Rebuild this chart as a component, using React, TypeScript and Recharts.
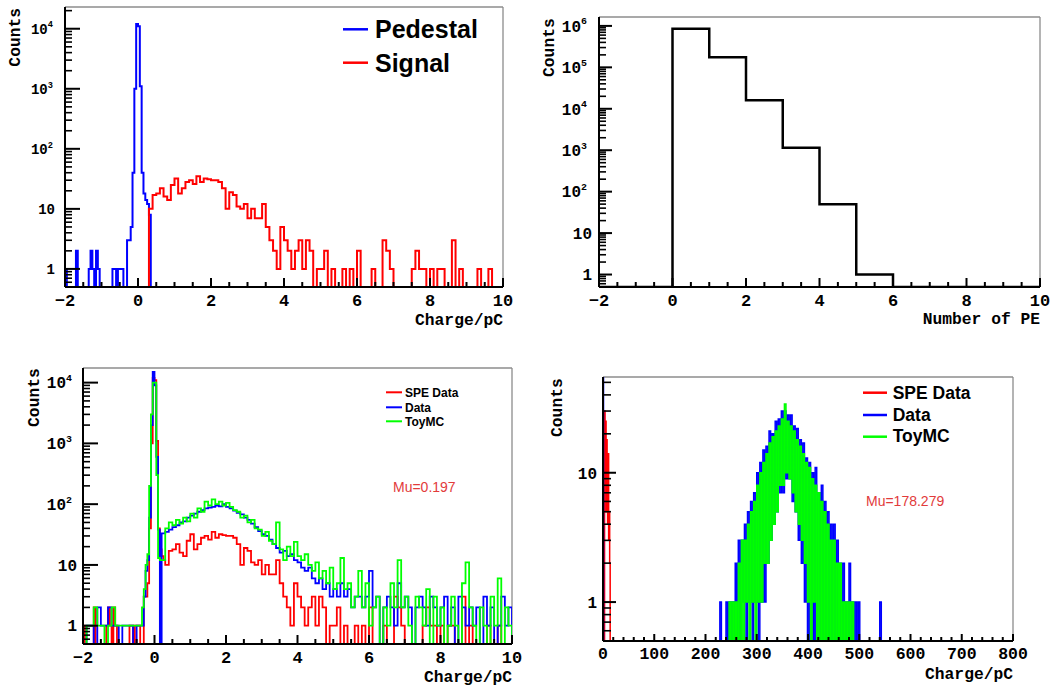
import React from 'react';
import { ComposedChart, Line, XAxis, YAxis, ReferenceLine } from 'recharts';

const FLOOR = 0.5;
const MONO = "'Liberation Mono', 'DejaVu Sans Mono', monospace";
const SANS = "'Liberation Sans', Arial, Helvetica, sans-serif";
const BLUE = '#0000ff';
const RED = '#ff0000';
const GREEN = '#00ff00';

// ---------------- Panel 1: Pedestal / Signal (Charge/pC) ----------------
const PED_START = -2;
const PED_WIDTH = 0.05;
const pedestalCounts = [
  1, 0, 0, 0, 0, 0, 2, 0, 0, 0,
  0, 0, 0, 1, 2, 1, 0, 2, 1, 0,
  0, 0, 0, 0, 0, 0, 1, 1, 0, 1,
  1, 1, 0, 0, 3, 3, 5, 40, 1000, 12000,
  11000, 1100, 40, 18, 14, 12, 8, 0,
];
const SIG_START = 0.3;
const SIG_WIDTH = 0.1;
const signalCounts = [
  10, 17, 18, 22, 16, 14, 25, 32, 18, 22,
  28, 30, 26, 35, 28, 32, 31, 30, 30, 28,
  22, 10, 19, 17, 11, 10, 12, 7, 10, 7,
  7, 12, 5, 3, 2, 1, 5, 3, 2, 1,
  2, 3, 1, 3, 2, 0, 1, 1, 2, 0,
  1, 0, 0, 1, 0, 1, 0, 2, 0, 0,
  0, 1, 0, 0, 3, 2, 1, 0, 0, 0,
  0, 0, 1, 2, 1, 1, 0, 1, 0, 1,
  1, 0, 0, 3, 0, 1, 0, 0, 0, 0,
  1, 0, 0, 1, 0, 0, 0,
];

// ---------------- Panel 2: Number of PE ----------------
const PE_START = 0;
const PE_WIDTH = 1;
const peCounts = [850000, 175000, 16000, 1150, 50, 1];

// ---------------- Panel 3: SPE Data / Data / ToyMC (Charge/pC) ----------------
const LEFT_START = -2;
const LEFT_WIDTH = 0.1;
const PEAK_START = -0.4;
const PEAK_WIDTH = 0.05;
const BODY_START = 0.2;
const BODY_WIDTH = 0.1;
const dataLeft = [0, 1, 1, 0, 2, 1, 1, 2, 1, 1, 0, 1, 1, 1, 0, 1];
const dataPeak = [1, 1, 3, 8, 12, 60, 2000, 15000, 9000, 600, 38, 0];
const dataBody = [
  33, 35, 38, 42, 45, 50, 52, 60, 65, 70,
  75, 80, 85, 88, 90, 95, 92, 100, 90, 85,
  78, 72, 68, 60, 55, 48, 42, 36, 32, 30,
  26, 22, 19, 16, 17, 14, 15, 12, 11, 9,
  8, 9, 6, 5, 6, 4, 5, 3, 4, 3,
  5, 3, 4, 2, 3, 3, 2, 3, 8, 2,
  3, 0, 2, 3, 2, 1, 5, 2, 3, 2,
  0, 2, 3, 2, 1, 3, 2, 1, 2, 3,
  1, 2, 0, 3, 2, 1, 2, 1, 2, 0,
  3, 1, 2, 0, 1, 3, 1, 2,
];
const mcLeft = [0, 1, 1, 2, 1, 1, 0, 1, 2, 1, 1, 1, 1, 1, 1, 1];
const mcPeak = [1, 2, 4, 10, 15, 200, 3000, 10000, 10000, 300, 13, 12];
const mcBody = [
  12, 40, 50, 45, 55, 48, 60, 52, 70, 60,
  85, 75, 110, 95, 120, 100, 110, 95, 105, 90,
  80, 75, 60, 65, 50, 55, 40, 38, 30, 35,
  25, 22, 50, 18, 12, 20, 14, 24, 14, 12,
  15, 10, 8, 11, 6, 8, 5, 9, 4, 5,
  13, 4, 5, 2, 3, 8, 2, 5, 1, 2,
  3, 0, 2, 1, 5, 2, 12, 2, 3, 1,
  0, 3, 2, 1, 4, 0, 3, 1, 2, 0,
  1, 3, 1, 0, 5, 11, 2, 1, 0, 2,
  1, 0, 3, 1, 6, 0, 2, 1,
];

// ---------------- Panel 4: wide charge range ----------------
const SPE4_START = 3;
const SPE4_WIDTH = 1;
const spe4Counts = [30, 8, 25, 5, 18, 6, 4, 14, 3, 5, 2, 0];
const DATA4_PED_START = 0;
const DATA4_PED_WIDTH = 1;
const data4Ped = [8000];
const G4_START = 216;
const G4_WIDTH = 3;
const data4Counts = [
  0, 0, 0, 0, 1, 0, 0, 0, 1, 0,
  1, 0, 1, 0, 2, 0, 3, 0, 3, 1,
  4, 0, 5, 1, 6, 0, 7, 1, 10, 0,
  12, 1, 15, 1, 16, 2, 21, 3, 20, 4,
  25, 5, 26, 7, 30, 7, 30, 9, 28, 9,
  28, 6, 23, 5, 22, 3, 18, 2, 17, 1,
  13, 0, 12, 0, 10, 0, 11, 0, 7, 0,
  8, 0, 6, 0, 5, 0, 4, 0, 4, 0,
  3, 0, 2, 0, 2, 0, 1, 0, 2, 0,
  1, 0, 1, 0, 1, 0, 0, 0, 0, 0,
  0, 0, 0, 0, 0, 0, 0, 0, 1, 0, 0,
];
const mc4Counts = [
  0, 0, 0, 0, 0, 0, 0, 0, 0, 0,
  1, 0, 1, 0, 1, 0, 2, 0, 3, 0,
  3, 1, 4, 0, 5, 1, 6, 0, 8, 1,
  10, 1, 12, 2, 14, 2, 17, 3, 19, 4,
  21, 5, 23, 8, 26, 8, 34, 10, 25, 9,
  23, 7, 21, 5, 18, 4, 16, 3, 14, 2,
  12, 1, 11, 0, 9, 1, 8, 0, 7, 0,
  6, 0, 5, 0, 4, 0, 3, 0, 3, 0,
  2, 0, 2, 0, 1, 0, 1, 0, 1, 0,
  1, 0, 0, 0, 0, 0, 0, 0, 0, 0,
  0, 0, 0, 0, 0, 0, 0, 0, 0, 0, 0,
];

// ---------------- Tick labels ----------------
const chargeMajorTicks = [-2, 0, 2, 4, 6, 8, 10];
const wideChargeMajorTicks = [0, 100, 200, 300, 400, 500, 600, 700, 800];

// ---------------- helpers ----------------
type Pt = { x: number; y: number };
type Seg = { start: number; width: number; counts: number[] };
const rnd = (v: number) => Math.round(v * 10000) / 10000;

function stepLine(xmin: number, xmax: number, segs: Seg[]): Pt[] {
  const pts: Pt[] = [{ x: xmin, y: FLOOR }];
  for (const s of segs) {
    s.counts.forEach((c, i) => pts.push({ x: rnd(s.start + i * s.width), y: c > 0 ? c : FLOOR }));
    pts.push({ x: rnd(s.start + s.counts.length * s.width), y: FLOOR });
  }
  pts.push({ x: xmax, y: FLOOR });
  const out: Pt[] = [];
  for (const p of pts) {
    if (out.length && Math.abs(out[out.length - 1].x - p.x) < 1e-9) out[out.length - 1] = p;
    else out.push(p);
  }
  return out;
}

function linTicks(a: number, b: number, step: number): number[] {
  const r: number[] = [];
  for (let v = a; v <= b + 1e-9; v += step) r.push(Math.round(v * 100) / 100);
  return r;
}
function logTicks(lo: number, hi: number): number[] {
  const r: number[] = [];
  for (let e = -1; e <= 7; e++) {
    for (let m = 1; m <= 9; m++) {
      const v = Math.round(m * Math.pow(10, e) * 1000) / 1000;
      if (v >= lo && v <= hi) r.push(v);
    }
  }
  return r;
}

type Plot = { l: number; t: number; r: number; b: number };
type YOpts = { labelX: number; powX: number; font: number; major: number; minor: number };
type XOpts = { labelY: number; font: number; major: number; minor: number; majors: number[] };

function makeYTick(plot: Plot, o: YOpts) {
  return (props: any) => {
    const { y, payload } = props;
    const v = Number(payload.value);
    const lg = Math.log10(v);
    const e = Math.round(lg);
    const isMajor = Math.abs(lg - e) < 1e-6;
    const len = isMajor ? o.major : o.minor;
    return (
      <g>
        <line x1={plot.l} x2={plot.l + len} y1={y} y2={y} stroke="#000" strokeWidth={isMajor ? 2 : 1.6} />
        {isMajor && e >= 0 && (
          <text
            x={e <= 1 ? o.labelX : o.powX}
            y={y + o.font * 0.36}
            textAnchor="end"
            fontFamily={MONO}
            fontWeight="bold"
            fontSize={o.font}
            fill="#000"
          >
            {e <= 1 ? (
              String(Math.round(v))
            ) : (
              <>
                10
                <tspan dy={-o.font * 0.45} fontSize={o.font * 0.62}>
                  {e}
                </tspan>
              </>
            )}
          </text>
        )}
      </g>
    );
  };
}

function makeXTick(plot: Plot, o: XOpts) {
  return (props: any) => {
    const { x, payload } = props;
    const v = Number(payload.value);
    const isMajor = o.majors.some((m) => Math.abs(m - v) < 1e-9);
    const len = isMajor ? o.major : o.minor;
    const label = v < 0 ? '\u2212' + Math.abs(v) : String(v);
    return (
      <g>
        <line x1={x} x2={x} y1={plot.b} y2={plot.b - len} stroke="#000" strokeWidth={2} />
        {isMajor && (
          <text x={x} y={o.labelY} textAnchor="middle" fontFamily={MONO} fontWeight="bold" fontSize={o.font} fill="#000">
            {label}
          </text>
        )}
      </g>
    );
  };
}

type Series = { data: Pt[]; color: string; width: number };
type PanelProps = {
  left: number;
  top: number;
  width: number;
  height: number;
  plot: Plot;
  xDomain: [number, number];
  yDomain: [number, number];
  xTicks: number[];
  yTicks: number[];
  yOpts: YOpts;
  xOpts: XOpts;
  series: Series[];
  overlay: React.ReactNode;
};

function HistPanel(p: PanelProps) {
  const margin = { top: p.plot.t, right: p.width - p.plot.r, bottom: 0, left: 0 };
  return (
    <div style={{ position: 'absolute', left: p.left, top: p.top, width: p.width, height: p.height }}>
      <ComposedChart width={p.width} height={p.height} margin={margin}>
        <XAxis
          dataKey="x"
          type="number"
          domain={p.xDomain}
          allowDataOverflow
          ticks={p.xTicks}
          interval={0}
          height={p.height - p.plot.b}
          tickLine={false}
          axisLine={{ stroke: '#000', strokeWidth: 2 }}
          tick={makeXTick(p.plot, p.xOpts)}
        />
        <YAxis
          type="number"
          scale="log"
          domain={p.yDomain}
          allowDataOverflow
          ticks={p.yTicks}
          interval={0}
          width={p.plot.l}
          tickLine={false}
          axisLine={{ stroke: '#000', strokeWidth: 2 }}
          tick={makeYTick(p.plot, p.yOpts)}
        />
        <ReferenceLine y={p.yDomain[1]} stroke="#8c8c8c" strokeWidth={1.3} ifOverflow="visible" />
        <ReferenceLine x={p.xDomain[1]} stroke="#8c8c8c" strokeWidth={1.3} ifOverflow="visible" />
        {p.series.map((s, i) => (
          <Line
            key={i}
            data={s.data}
            dataKey="y"
            type="stepAfter"
            stroke={s.color}
            strokeWidth={s.width}
            dot={false}
            activeDot={false}
            isAnimationActive={false}
          />
        ))}
      </ComposedChart>
      <svg
        width={p.width}
        height={p.height}
        style={{ position: 'absolute', left: 0, top: 0, pointerEvents: 'none' }}
      >
        {p.overlay}
      </svg>
    </div>
  );
}

const titleStyle = { fontFamily: MONO, fontWeight: 'bold' as const, fontSize: 16.3, fill: '#000' };

function YTitle({ x, y }: { x: number; y: number }) {
  return (
    <text x={x} y={y} transform={`rotate(-90 ${x} ${y})`} textAnchor="end" {...titleStyle}>
      Counts
    </text>
  );
}

export default function App() {
  const chargeTicks = linTicks(-2, 10, 0.5);
  const wideTicks = linTicks(0, 800, 20);

  // Panel 1
  const p1Plot = { l: 65, t: 7, r: 503, b: 287 };
  const p1Y: [number, number] = [FLOOR, 23000];
  const pedLine = stepLine(-2, 10, [{ start: PED_START, width: PED_WIDTH, counts: pedestalCounts }]);
  const sigLine = stepLine(-2, 10, [{ start: SIG_START, width: SIG_WIDTH, counts: signalCounts }]);

  // Panel 2
  const p2Plot = { l: 72, t: 17, r: 513, b: 287 };
  const p2Y: [number, number] = [FLOOR, 1640000];
  const peLine = stepLine(-2, 10, [{ start: PE_START, width: PE_WIDTH, counts: peCounts }]);

  // Panel 3
  const p3Plot = { l: 83, t: 28, r: 512, b: 304 };
  const p3Y: [number, number] = [FLOOR, 17400];
  const speLine = stepLine(-2, 10, [
    { start: PED_START, width: PED_WIDTH, counts: pedestalCounts.slice(0, 46) },
    { start: SIG_START, width: SIG_WIDTH, counts: signalCounts },
  ]);
  const dataLine = stepLine(-2, 10, [
    { start: LEFT_START, width: LEFT_WIDTH, counts: dataLeft },
    { start: PEAK_START, width: PEAK_WIDTH, counts: dataPeak },
    { start: BODY_START, width: BODY_WIDTH, counts: dataBody },
  ]);
  const mcLine = stepLine(-2, 10, [
    { start: LEFT_START, width: LEFT_WIDTH, counts: mcLeft },
    { start: PEAK_START, width: PEAK_WIDTH, counts: mcPeak },
    { start: BODY_START, width: BODY_WIDTH, counts: mcBody },
  ]);

  // Panel 4
  const p4Plot = { l: 76, t: 37, r: 486, b: 301 };
  const p4Y: [number, number] = [FLOOR, 55];
  const spe4Line = stepLine(0, 800, [{ start: SPE4_START, width: SPE4_WIDTH, counts: spe4Counts }]);
  const data4Line = stepLine(0, 800, [
    { start: DATA4_PED_START, width: DATA4_PED_WIDTH, counts: data4Ped },
    { start: G4_START, width: G4_WIDTH, counts: data4Counts },
  ]);
  const mc4Line = stepLine(0, 800, [{ start: G4_START, width: G4_WIDTH, counts: mc4Counts }]);

  return (
    <div style={{ position: 'absolute', left: 0, top: 0, width: 1054, height: 688, background: '#fff', overflow: 'hidden' }}>
      <HistPanel
        left={0}
        top={0}
        width={525}
        height={335}
        plot={p1Plot}
        xDomain={[-2, 10]}
        yDomain={p1Y}
        xTicks={chargeTicks}
        yTicks={logTicks(0.6, p1Y[1])}
        yOpts={{ labelX: 55, powX: 53, font: 14, major: 15, minor: 7 }}
        xOpts={{ labelY: 306, font: 17, major: 9, minor: 5, majors: chargeMajorTicks }}
        series={[
          { data: pedLine, color: BLUE, width: 2 },
          { data: sigLine, color: RED, width: 2 },
        ]}
        overlay={
          <>
            <YTitle x={20} y={8} />
            <text x={503} y={325} textAnchor="end" {...titleStyle}>Charge/pC</text>
            <line x1={343} x2={368} y1={29.3} y2={29.3} stroke={BLUE} strokeWidth={2.5} />
            <text x={375} y={38.3} fontFamily={SANS} fontWeight="bold" fontSize={25} fill="#000">Pedestal</text>
            <line x1={343} x2={368} y1={62.7} y2={62.7} stroke={RED} strokeWidth={2.5} />
            <text x={375} y={71.7} fontFamily={SANS} fontWeight="bold" fontSize={25} fill="#000">Signal</text>
          </>
        }
      />
      <HistPanel
        left={527}
        top={0}
        width={527}
        height={335}
        plot={p2Plot}
        xDomain={[-2, 10]}
        yDomain={p2Y}
        xTicks={chargeTicks}
        yTicks={logTicks(0.6, p2Y[1])}
        yOpts={{ labelX: 65, powX: 60, font: 16, major: 13, minor: 7 }}
        xOpts={{ labelY: 306, font: 17, major: 9, minor: 5, majors: chargeMajorTicks }}
        series={[{ data: peLine, color: '#000', width: 2.5 }]}
        overlay={
          <>
            <YTitle x={27} y={18.3} />
            <text x={513} y={324} textAnchor="end" {...titleStyle}>Number of PE</text>
          </>
        }
      />
      <HistPanel
        left={0}
        top={340}
        width={525}
        height={348}
        plot={p3Plot}
        xDomain={[-2, 10]}
        yDomain={p3Y}
        xTicks={chargeTicks}
        yTicks={logTicks(0.6, p3Y[1])}
        yOpts={{ labelX: 77, powX: 72, font: 16, major: 15, minor: 7 }}
        xOpts={{ labelY: 322.7, font: 17, major: 9, minor: 5, majors: chargeMajorTicks }}
        series={[
          { data: speLine, color: RED, width: 1.8 },
          { data: dataLine, color: BLUE, width: 1.8 },
          { data: mcLine, color: GREEN, width: 1.8 },
        ]}
        overlay={
          <>
            <YTitle x={39.3} y={28.3} />
            <text x={512} y={341.7} textAnchor="end" {...titleStyle}>Charge/pC</text>
            <line x1={386} x2={402} y1={52.3} y2={52.3} stroke={RED} strokeWidth={2} />
            <text x={405} y={56.7} fontFamily={SANS} fontWeight="bold" fontSize={12} fill="#000">SPE Data</text>
            <line x1={386} x2={402} y1={67.3} y2={67.3} stroke={BLUE} strokeWidth={2} />
            <text x={405} y={71.7} fontFamily={SANS} fontWeight="bold" fontSize={12} fill="#000">Data</text>
            <line x1={386} x2={402} y1={81.3} y2={81.3} stroke={GREEN} strokeWidth={2} />
            <text x={405} y={86} fontFamily={SANS} fontWeight="bold" fontSize={12} fill="#000">ToyMC</text>
            <text x={393} y={151.7} fontFamily={SANS} fontSize={14} fill="#e23b3b">Mu=0.197</text>
          </>
        }
      />
      <HistPanel
        left={527}
        top={340}
        width={527}
        height={348}
        plot={p4Plot}
        xDomain={[0, 800]}
        yDomain={p4Y}
        xTicks={wideTicks}
        yTicks={logTicks(0.6, p4Y[1])}
        yOpts={{ labelX: 70, powX: 66, font: 16, major: 13, minor: 8 }}
        xOpts={{ labelY: 318.5, font: 16.5, major: 7, minor: 4, majors: wideChargeMajorTicks }}
        series={[
          { data: spe4Line, color: RED, width: 1.5 },
          { data: data4Line, color: BLUE, width: 1.5 },
          { data: mc4Line, color: GREEN, width: 1.5 },
        ]}
        overlay={
          <>
            <YTitle x={34.7} y={38.3} />
            <text x={486} y={338.5} textAnchor="end" {...titleStyle}>Charge/pC</text>
            <line x1={336} x2={360} y1={52.7} y2={52.7} stroke={RED} strokeWidth={2.5} />
            <text x={365.7} y={59.3} fontFamily={SANS} fontWeight="bold" fontSize={17.5} fill="#000">SPE Data</text>
            <line x1={336} x2={360} y1={75} y2={75} stroke={BLUE} strokeWidth={2.5} />
            <text x={365.7} y={81} fontFamily={SANS} fontWeight="bold" fontSize={17.5} fill="#000">Data</text>
            <line x1={336} x2={360} y1={96.7} y2={96.7} stroke={GREEN} strokeWidth={2.5} />
            <text x={365.7} y={101.7} fontFamily={SANS} fontWeight="bold" fontSize={17.5} fill="#000">ToyMC</text>
            <text x={339} y={165.7} fontFamily={SANS} fontSize={14} fill="#e23b3b">Mu=178.279</text>
          </>
        }
      />
    </div>
  );
}
